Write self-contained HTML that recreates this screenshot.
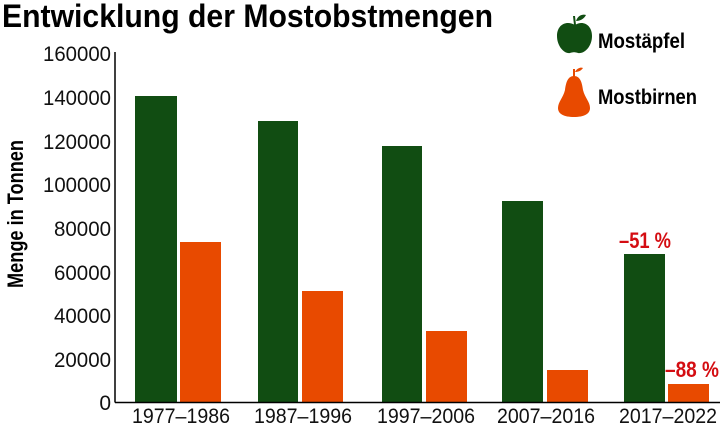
<!DOCTYPE html>
<html><head><meta charset="utf-8"><style>html,body{margin:0;padding:0;background:#fff;}svg{display:block}</style></head>
<body>
<svg width="720" height="429" viewBox="0 0 720 429" xmlns="http://www.w3.org/2000/svg">
<rect width="720" height="429" fill="#fff"/>
<text x="2" y="27" font-family="Liberation Sans, sans-serif" font-weight="bold" font-size="32" textLength="491" lengthAdjust="spacingAndGlyphs" fill="#000">Entwicklung der Mostobstmengen</text>
<g font-family="Liberation Sans, sans-serif" font-size="21" fill="#111" text-anchor="end">
<text x="111" y="61" textLength="68" lengthAdjust="spacingAndGlyphs">160000</text>
<text x="111" y="105" textLength="68" lengthAdjust="spacingAndGlyphs">140000</text>
<text x="111" y="149" textLength="68" lengthAdjust="spacingAndGlyphs">120000</text>
<text x="111" y="192" textLength="68" lengthAdjust="spacingAndGlyphs">100000</text>
<text x="111" y="236" textLength="57" lengthAdjust="spacingAndGlyphs">80000</text>
<text x="111" y="280" textLength="57" lengthAdjust="spacingAndGlyphs">60000</text>
<text x="111" y="323" textLength="57" lengthAdjust="spacingAndGlyphs">40000</text>
<text x="111" y="367" textLength="57" lengthAdjust="spacingAndGlyphs">20000</text>
<text x="111" y="410">0</text>
</g>
<text transform="translate(23,214) rotate(-90)" text-anchor="middle" font-family="Liberation Sans, sans-serif" font-weight="bold" font-size="22" textLength="148" lengthAdjust="spacingAndGlyphs" fill="#000">Menge in Tonnen</text>
<g fill="#114d12">
<rect x="135" y="96" width="42" height="306"/>
<rect x="258" y="121" width="40" height="281"/>
<rect x="382" y="146" width="40" height="256"/>
<rect x="502" y="201" width="41" height="201"/>
<rect x="624" y="254" width="41" height="148"/>
</g>
<g fill="#e84a00">
<rect x="180" y="242" width="41" height="160"/>
<rect x="302" y="291" width="41" height="111"/>
<rect x="426" y="331" width="41" height="71"/>
<rect x="547" y="370" width="41" height="32"/>
<rect x="668" y="384" width="41" height="18"/>
</g>
<line x1="115" y1="52" x2="115" y2="402.5" stroke="#000" stroke-width="1.5"/>
<line x1="115" y1="402.5" x2="720" y2="402.5" stroke="#000" stroke-width="1.5"/>
<g font-family="Liberation Sans, sans-serif" font-size="21" fill="#111" text-anchor="middle">
<text x="181" y="423" textLength="98" lengthAdjust="spacingAndGlyphs">1977–1986</text>
<text x="303" y="423" textLength="98" lengthAdjust="spacingAndGlyphs">1987–1996</text>
<text x="426" y="423" textLength="98" lengthAdjust="spacingAndGlyphs">1997–2006</text>
<text x="546" y="423" textLength="98" lengthAdjust="spacingAndGlyphs">2007–2016</text>
<text x="668" y="423" textLength="98" lengthAdjust="spacingAndGlyphs">2017–2022</text>
</g>
<g font-family="Liberation Sans, sans-serif" font-weight="bold" font-size="22" fill="#d40d12">
<text x="619" y="248" textLength="52" lengthAdjust="spacingAndGlyphs">–51 %</text>
<text x="665" y="377" textLength="54" lengthAdjust="spacingAndGlyphs">–88 %</text>
</g>
<g fill="#114d12">
<path d="M575 25 C566 20 557 25 557 36 C557 46 564 54 570 53 C573 52 575 52 578 53 C585 54 592 46 592 36 C592 25 583 20 575 25 Z"/>
<path d="M574 25 L573 16 L575 16 L576 25 Z"/>
<path d="M576 21 C578 15 583 14 586 15 C584 19 580 21 576 21 Z"/>
</g>
<g fill="#e84a00">
<path d="M574 76 C568 76 566 82 565 90 C563 98 558 102 558 108 C558 114 564 117 574 117 C584 117 590 114 590 108 C590 102 585 98 583 90 C582 82 580 76 574 76 Z"/>
<path d="M573 77 L573 69 L575 69 L575 77 Z"/>
<path d="M575 72 C577 68 581 67 583 68 C581 71 578 72 575 72 Z"/>
</g>
<g font-family="Liberation Sans, sans-serif" font-weight="bold" font-size="21" fill="#000">
<text x="598" y="48" textLength="87" lengthAdjust="spacingAndGlyphs">Mostäpfel</text>
<text x="598" y="104" textLength="99" lengthAdjust="spacingAndGlyphs">Mostbirnen</text>
</g>
</svg>
</body></html>
